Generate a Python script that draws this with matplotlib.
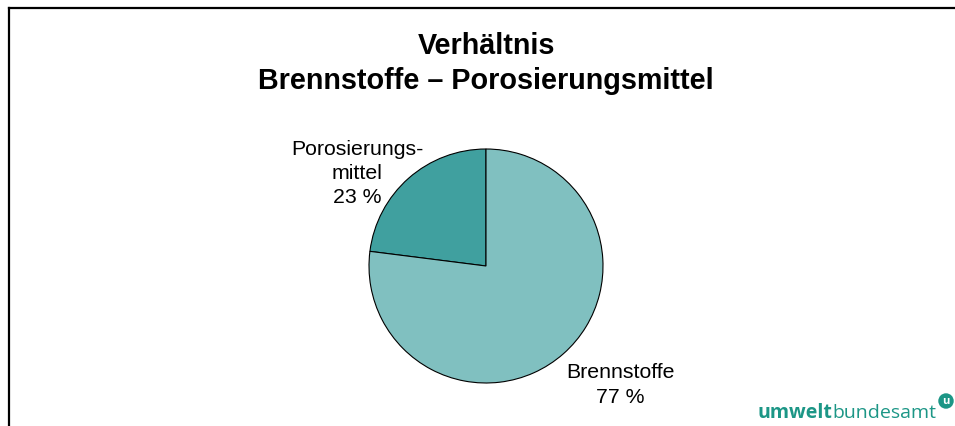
import matplotlib
matplotlib.use("Agg")
import matplotlib.pyplot as plt
from matplotlib.lines import Line2D

plt.rcParams['font.family'] = ['Liberation Sans', 'DejaVu Sans']

categories = ["Porosierungs-\nmittel", "Brennstoffe"]
values = [23, 77]
colors = ["#40A09F", "#80C0C0"]

W, H = 955, 427
fig = plt.figure(figsize=(W / 100, H / 100), dpi=100)

def fx(px):
    return px / W

def fy(py):
    return 1 - py / H

# frame lines (left & top)
fig.add_artist(Line2D([fx(9), fx(9)], [fy(9), 0], transform=fig.transFigure, color="black", lw=1.6))
fig.add_artist(Line2D([fx(9), 1], [fy(9), fy(9)], transform=fig.transFigure, color="black", lw=1.6))

# title
fig.text(fx(486), fy(46), "Verhältnis", ha="center", va="center", fontsize=20.7, fontweight="bold")
fig.text(fx(486), fy(81), "Brennstoffe – Porosierungsmittel", ha="center", va="center", fontsize=20.7, fontweight="bold")

# pie
cx, cy, r = 486, 267, 117
ax = fig.add_axes([fx(cx - r), fy(cy + r), 2 * r / W, 2 * r / H])
wedges, _ = ax.pie(values, colors=colors, startangle=90, counterclock=True,
                   wedgeprops=dict(edgecolor="black", linewidth=0.8))
ax.set_xlim(-1, 1)
ax.set_ylim(-1, 1)
ax.set_aspect("auto")
ax.axis("off")

label_pos = [((357 - cx) / r, (cy - 173.5) / r), ((620 - cx) / r, (cy - 385) / r)]
for cat, v, (lx, ly) in zip(categories, values, label_pos):
    ax.text(lx, ly, f"{cat}\n{v} %", ha="center", va="center", fontsize=15.3,
            linespacing=1.36, clip_on=False)

# logo
logo_col = "#1C9686"
fig.text(fx(832), fy(418), "umwelt", ha="right", va="baseline", fontsize=14,
         fontweight="bold", color=logo_col, family=["Open Sans", "DejaVu Sans"])
fig.text(fx(832), fy(418), "bundesamt", ha="left", va="baseline", fontsize=14,
         color=logo_col, family=["Open Sans", "DejaVu Sans"])
fig.text(fx(946), fy(402), "u", ha="center", va="center", fontsize=8, fontweight="bold",
         color="white", family=["Open Sans", "DejaVu Sans"],
         bbox=dict(boxstyle="circle,pad=0.2", fc=logo_col, ec="none"))

fig.savefig("out.png", dpi=100)
